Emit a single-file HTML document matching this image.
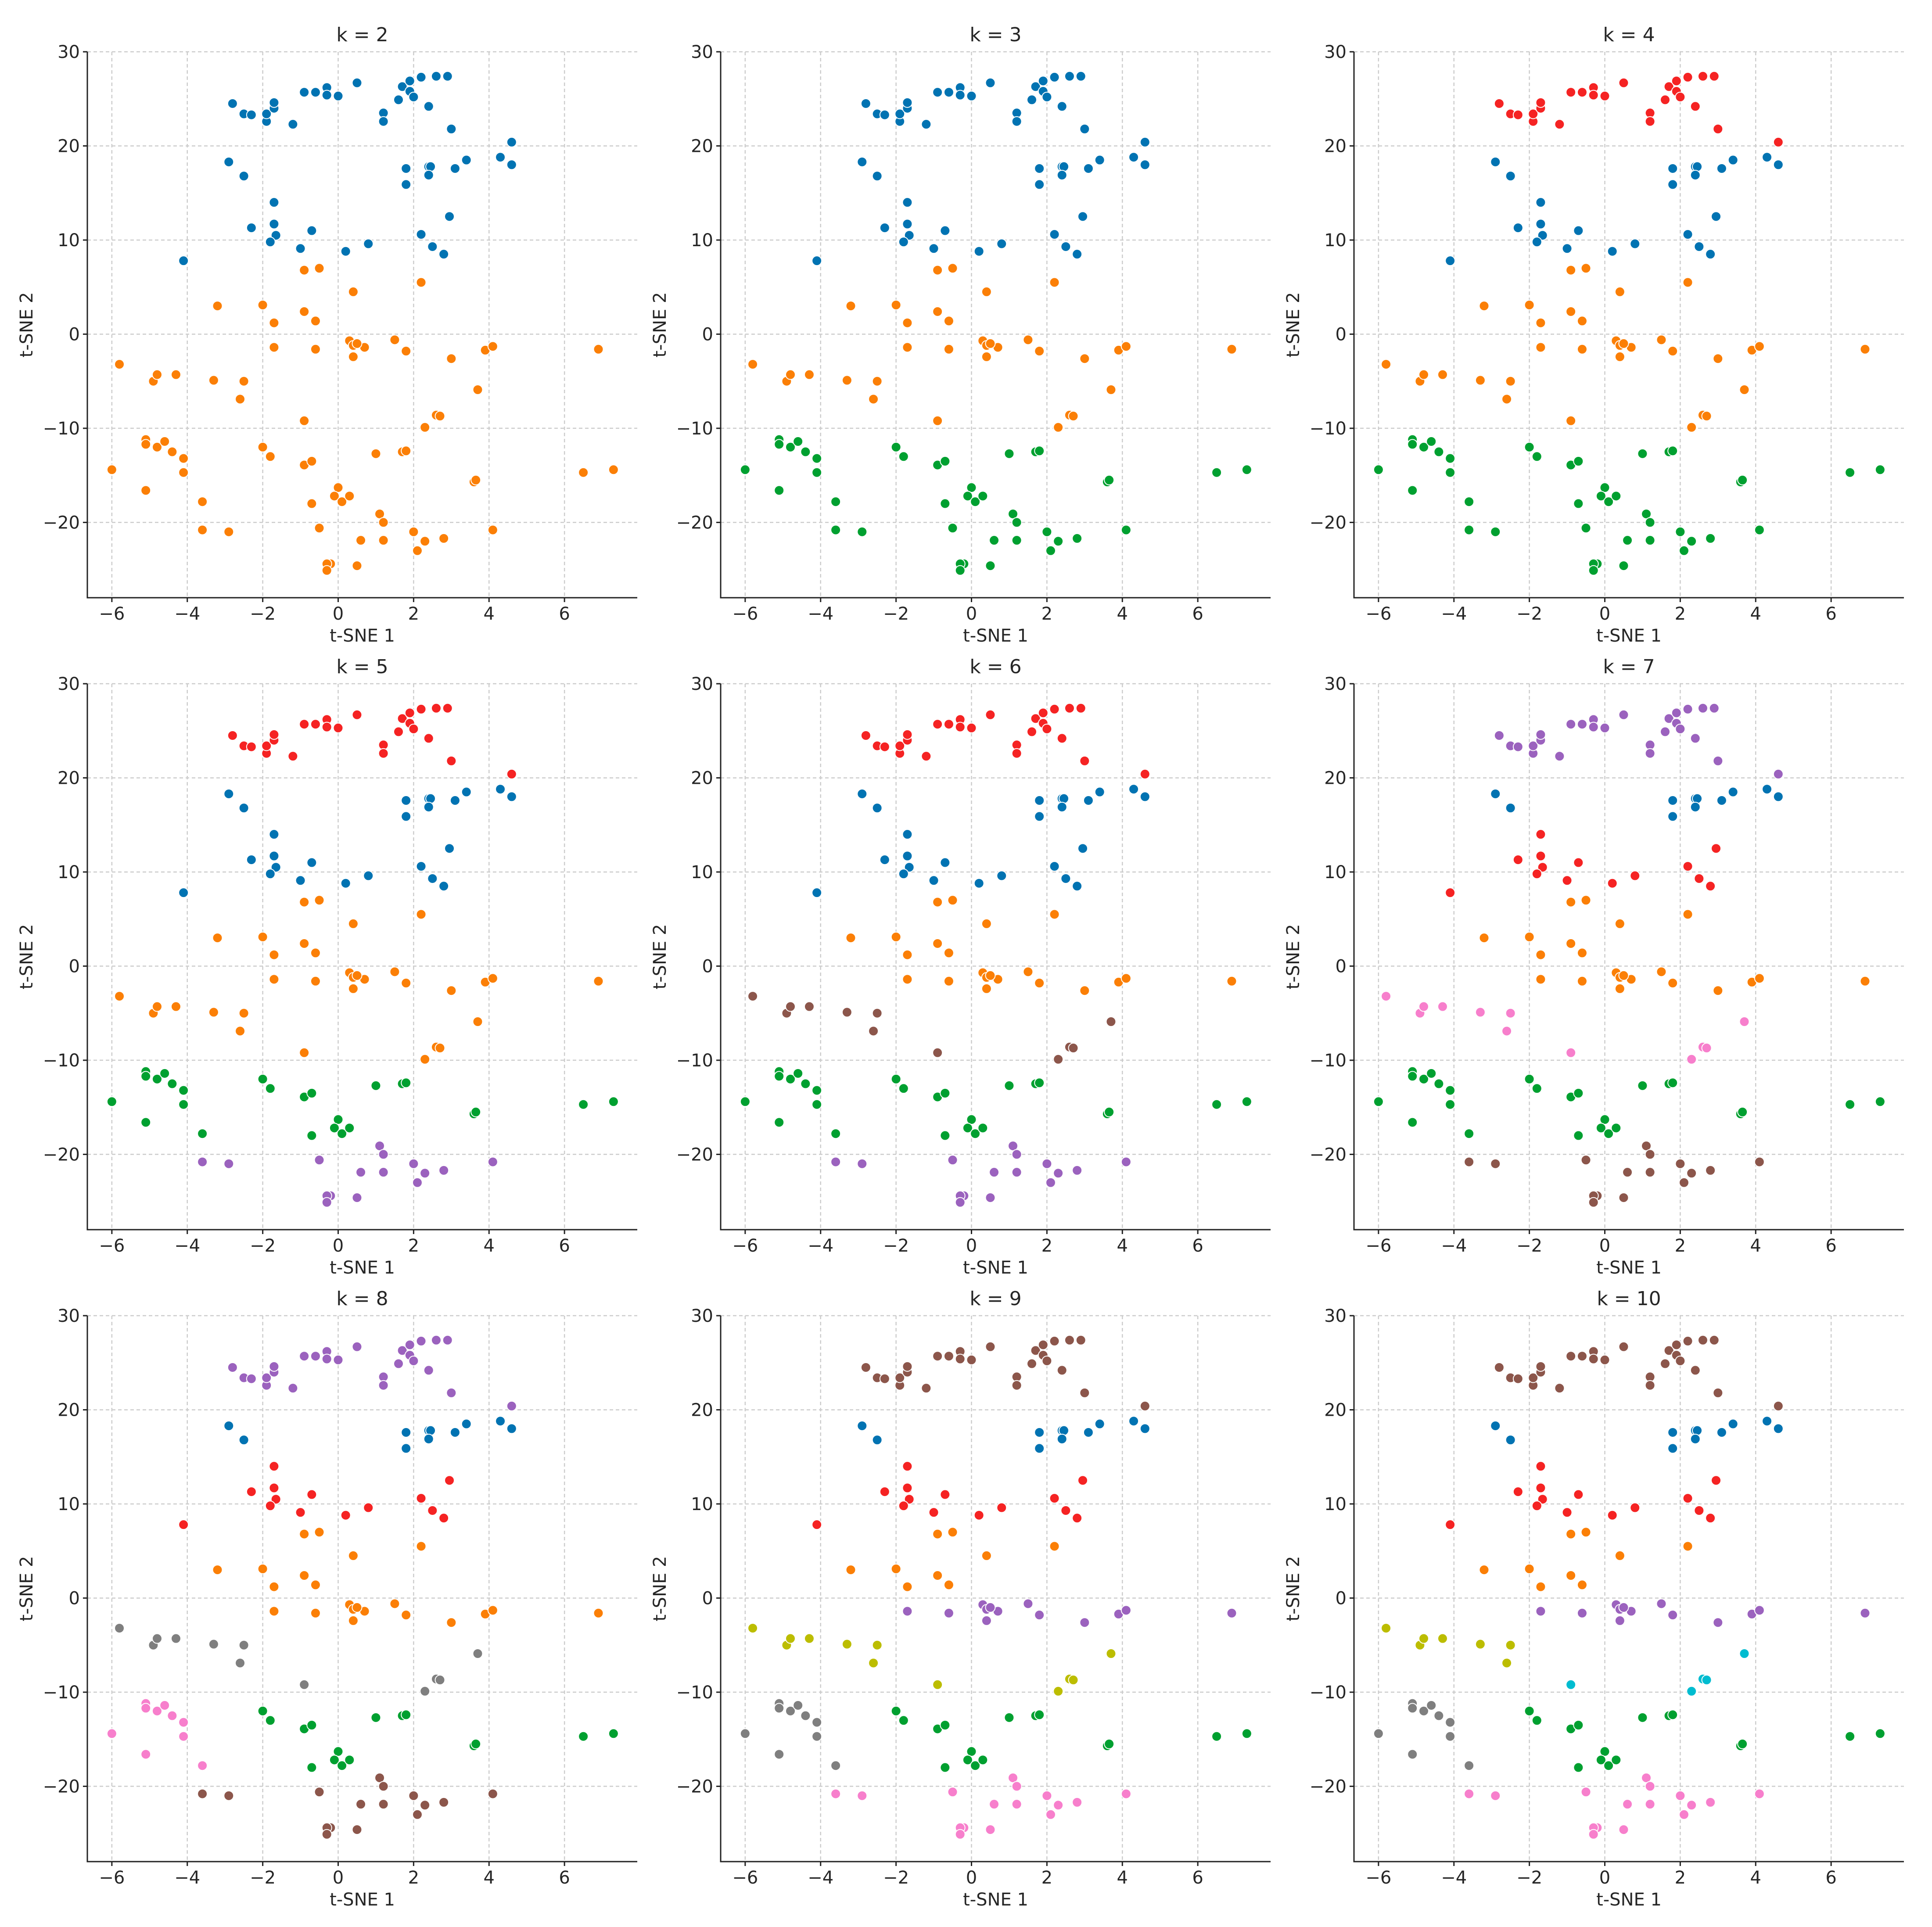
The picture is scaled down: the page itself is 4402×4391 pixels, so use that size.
<!DOCTYPE html>
<html><head><meta charset="utf-8">
<style>
html,body{margin:0;padding:0;background:#fff;}
svg{display:block;font-family:"DejaVu Sans","Liberation Sans",sans-serif;}
</style></head>
<body>
<svg id="fig" width="4402" height="4391" viewBox="0 0 4402 4391" xmlns="http://www.w3.org/2000/svg"></svg>
<script>
// ---- data ----
const ptX = [
-2.8,-2.5,-2.3,-1.9,-1.9,-1.7,-1.7,-1.2,-0.9,-0.6,-0.3,-0.3,0.0,0.5,1.2,1.2,1.6,1.7,1.9,1.9,2.0,2.2,2.4,2.6,2.9,3.0,4.6,
-2.9,-2.5,1.8,1.8,2.4,2.45,2.4,3.1,3.4,4.3,4.6,
-4.1,-2.3,-1.7,-1.7,-1.65,-1.8,-1.0,-0.7,0.2,0.8,2.2,2.5,2.8,2.95,
-3.2,-2.0,-1.7,-0.9,-0.5,-0.9,-0.6,0.4,2.2,
-1.7,-0.6,0.3,0.4,0.4,0.7,1.5,1.8,3.0,3.9,4.1,6.9,0.5,
-5.8,-4.9,-4.8,-4.3,-3.3,-2.5,-2.6,
-0.9,2.3,2.6,2.7,3.7,
-6.0,-5.1,-5.1,-4.8,-4.6,-4.4,-4.1,-4.1,-5.1,-3.6,
-2.0,-1.8,-0.9,-0.7,-0.7,0.0,-0.1,0.1,0.3,1.0,1.7,1.8,3.6,3.65,6.5,7.3,
-3.6,-2.9,-0.5,-0.2,-0.3,-0.3,0.5,0.6,1.1,1.2,1.2,2.0,2.1,2.3,2.8,4.1
];
const ptY = [
24.5,23.4,23.3,22.6,23.4,24.0,24.6,22.3,25.7,25.7,26.2,25.4,25.3,26.7,23.5,22.6,24.9,26.3,26.9,25.8,25.2,27.3,24.2,27.4,27.4,21.8,20.4,
18.3,16.8,17.6,15.9,17.8,17.8,16.9,17.6,18.5,18.8,18.0,
7.8,11.3,14.0,11.7,10.5,9.8,9.1,11.0,8.8,9.6,10.6,9.3,8.5,12.5,
3.0,3.1,1.2,6.8,7.0,2.4,1.4,4.5,5.5,
-1.4,-1.6,-0.7,-1.2,-2.4,-1.4,-0.6,-1.8,-2.6,-1.7,-1.3,-1.6,-1.0,
-3.2,-5.0,-4.3,-4.3,-4.9,-5.0,-6.9,
-9.2,-9.9,-8.6,-8.7,-5.9,
-14.4,-11.2,-11.7,-12.0,-11.4,-12.5,-13.2,-14.7,-16.6,-17.8,
-12.0,-13.0,-13.9,-13.5,-18.0,-16.3,-17.2,-17.8,-17.2,-12.7,-12.5,-12.4,-15.7,-15.5,-14.7,-14.4,
-20.8,-21.0,-20.6,-24.4,-24.4,-25.1,-24.6,-21.9,-19.1,-20.0,-21.9,-21.0,-23.0,-22.0,-21.7,-20.8
];
const groupSizes = [27,11,14,9,13,7,5,10,16,16];
const kValues = [2,3,4,5,6,7,8,9,10];
const groupColorByK = [
 ['b','b','b','o','o','o','o','o','o','o'],
 ['b','b','b','o','o','o','o','g','g','g'],
 ['r','b','b','o','o','o','o','g','g','g'],
 ['r','b','b','o','o','o','o','g','g','pu'],
 ['r','b','b','o','o','br','br','g','g','pu'],
 ['pu','b','r','o','o','pk','pk','g','g','br'],
 ['pu','b','r','o','o','gy','gy','pk','g','br'],
 ['br','b','r','o','pu','ol','ol','gy','g','pk'],
 ['br','b','r','o','pu','ol','cy','gy','g','pk']
];
const xTicks = [-6,-4,-2,0,2,4,6];
const yTicks = [-20,-10,0,10,20,30];

const palette = {b:'#0173b2',o:'#fb7f06',g:'#00a030',r:'#f52323',pu:'#9b62be',br:'#8c564b',pk:'#f77fcc',gy:'#7f7f7f',ol:'#bcbd00',cy:'#00bcd0'};
const NS='http://www.w3.org/2000/svg';
const svg=document.getElementById('fig');
const pointGroup=[]; groupSizes.forEach((n,g)=>{for(let i=0;i<n;i++)pointGroup.push(g);});
function mk(tag,attrs,parent){const e=document.createElementNS(NS,tag);for(const k in attrs)e.setAttribute(k,attrs[k]);parent.appendChild(e);return e;}
const X0=-6.65,X1=7.93,Y0=-28,Y1=30;
const PW=1253,PH=1244;
function fmt(v){return v<0?'\u2212'+Math.abs(v):String(v);}
kValues.forEach((k,pi)=>{
  const col=pi%3,row=Math.floor(pi/3);
  const L=199+col*1443,T=118+row*1440;
  const sx=v=>L+(v-X0)/(X1-X0)*PW;
  const sy=v=>T+(Y1-v)/(Y1-Y0)*PH;
  const g=mk('g',{},svg);
  
  
  xTicks.forEach(t=>{const l=mk('line',{x1:sx(t),x2:sx(t),y1:T,y2:T+PH,stroke:'#cccccc','stroke-width':2.5,'stroke-dasharray':'8,6'},g);
    });
  yTicks.forEach(t=>{const l=mk('line',{x1:L,x2:L+PW,y1:sy(t),y2:sy(t),stroke:'#cccccc','stroke-width':2.5,'stroke-dasharray':'8,6'},g);
    });
  const ax=mk('path',{d:`M${L},${T} V${T+PH} H${L+PW}`,stroke:'#222',fill:'none','stroke-width':3},g);
  
  xTicks.forEach(t=>{mk('line',{x1:sx(t),x2:sx(t),y1:T+PH,y2:T+PH+10,stroke:'#222','stroke-width':3},g);
    const tx=mk('text',{x:sx(t),y:T+PH+50,'font-size':40,'text-anchor':'middle',fill:'#262626'},g);tx.textContent=fmt(t);
    });
  yTicks.forEach(t=>{mk('line',{x1:L-10,x2:L,y1:sy(t),y2:sy(t),stroke:'#222','stroke-width':3},g);
    const tx=mk('text',{x:L-17,y:sy(t)+14,'font-size':40,'text-anchor':'end',fill:'#262626'},g);tx.textContent=fmt(t);
    });
  const xl=mk('text',{x:L+PW/2,y:T+PH+100,'font-size':40,'text-anchor':'middle',fill:'#262626'},g);xl.textContent='t-SNE 1';
  
  const yl=mk('text',{x:0,y:0,'font-size':40,'text-anchor':'middle',fill:'#262626',transform:`translate(${L-125},${T+PH/2}) rotate(-90)`},g);yl.textContent='t-SNE 2';
  
  const ti=mk('text',{x:L+PW/2,y:T-24,'font-size':44,'text-anchor':'middle',fill:'#262626'},g);ti.textContent='k = '+k;
  
  ptX.forEach((xv,i)=>{
    const c=mk('circle',{cx:sx(xv),cy:sy(ptY[i]),r:11,fill:palette[groupColorByK[pi][pointGroup[i]]],stroke:'#fff','stroke-width':2},g);
    
    
  });
});
</script>
</body></html>
